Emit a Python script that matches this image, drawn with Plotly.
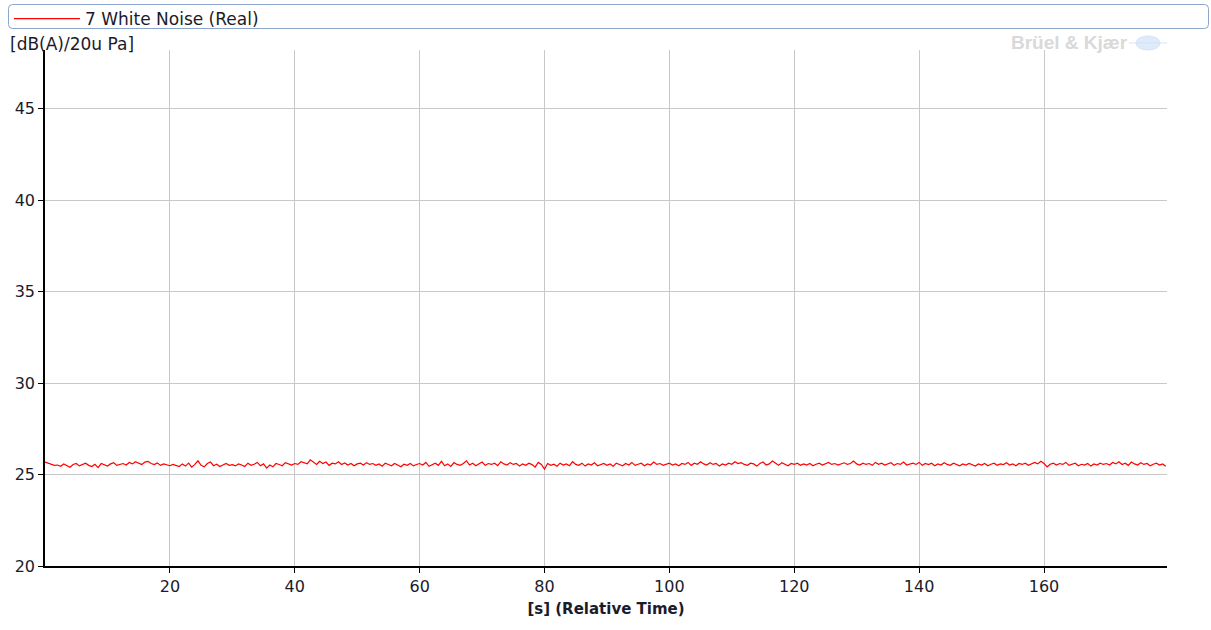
import plotly.graph_objects as go

# ---- data (0.5 s spacing) ----
series_name = "7 White Noise (Real)"
time_step_s = 0.5
level_dba = [
    25.68, 25.62, 25.55, 25.50, 25.52, 25.45, 25.58, 25.48, 25.40, 25.55, 25.60, 25.47, 25.53, 25.62, 25.50, 25.44, 25.56, 25.38, 25.60, 25.52,
    25.46, 25.58, 25.64, 25.50, 25.55, 25.60, 25.52, 25.66, 25.58, 25.70, 25.62, 25.55, 25.68, 25.72, 25.60, 25.54, 25.63, 25.50, 25.58, 25.52,
    25.48, 25.55, 25.50, 25.44, 25.58, 25.46, 25.62, 25.40, 25.55, 25.75, 25.50, 25.42, 25.60, 25.68, 25.48, 25.56, 25.44, 25.52, 25.60, 25.50,
    25.54, 25.47, 25.58, 25.52, 25.44, 25.62, 25.50, 25.56, 25.66, 25.48, 25.58, 25.35, 25.52, 25.42, 25.60, 25.55, 25.48, 25.65, 25.58, 25.52,
    25.60, 25.55, 25.70, 25.62, 25.58, 25.80, 25.65, 25.55, 25.72, 25.60, 25.68, 25.50, 25.62, 25.58, 25.70, 25.55, 25.63, 25.52, 25.60, 25.48,
    25.58, 25.62, 25.52, 25.65, 25.55, 25.60, 25.50, 25.58, 25.45, 25.62, 25.55, 25.48, 25.60, 25.52, 25.42, 25.56, 25.50, 25.60, 25.47, 25.55,
    25.60, 25.52, 25.66, 25.45, 25.55, 25.62, 25.50, 25.72, 25.48, 25.58, 25.44, 25.65, 25.55, 25.50, 25.60, 25.75, 25.52, 25.62, 25.48, 25.56,
    25.68, 25.50, 25.60, 25.55, 25.62, 25.48, 25.70, 25.58, 25.52, 25.65, 25.55, 25.60, 25.46, 25.58, 25.50, 25.62, 25.54, 25.40, 25.66, 25.55,
    25.30, 25.60, 25.50, 25.56, 25.45, 25.62, 25.52, 25.58, 25.48, 25.70, 25.55, 25.50, 25.62, 25.46, 25.58, 25.52, 25.64, 25.48, 25.55, 25.60,
    25.50, 25.58, 25.45, 25.62, 25.55, 25.48, 25.60, 25.52, 25.66, 25.50, 25.56, 25.62, 25.48, 25.58, 25.52, 25.68, 25.55, 25.60, 25.50, 25.57,
    25.62, 25.52, 25.58, 25.48, 25.60, 25.55, 25.66, 25.50, 25.62, 25.56, 25.70, 25.58, 25.52, 25.64, 25.55, 25.60, 25.46, 25.58, 25.52, 25.62,
    25.56, 25.70, 25.60, 25.65, 25.55, 25.50, 25.62, 25.58, 25.46, 25.60, 25.68, 25.52, 25.58, 25.74, 25.60, 25.50, 25.64, 25.55, 25.48, 25.60,
    25.55, 25.62, 25.50, 25.58, 25.52, 25.60, 25.48, 25.56, 25.62, 25.52, 25.58, 25.66, 25.55, 25.60, 25.52, 25.58, 25.64, 25.55, 25.60, 25.74,
    25.58, 25.52, 25.62, 25.55, 25.60, 25.50, 25.66, 25.56, 25.62, 25.52, 25.58, 25.64, 25.50, 25.60, 25.55, 25.68, 25.52, 25.58, 25.62, 25.55,
    25.66, 25.50, 25.60, 25.54, 25.62, 25.48, 25.58, 25.52, 25.64, 25.55, 25.50, 25.62, 25.56, 25.48, 25.58, 25.52, 25.60, 25.55, 25.46, 25.58,
    25.52, 25.60, 25.48, 25.56, 25.62, 25.50, 25.58, 25.54, 25.64, 25.52, 25.58, 25.48, 25.60, 25.55, 25.62, 25.50, 25.56, 25.66, 25.58, 25.72,
    25.60, 25.42, 25.56, 25.62, 25.52, 25.60, 25.55, 25.66, 25.50, 25.58, 25.62, 25.48, 25.56, 25.52, 25.60, 25.46, 25.58, 25.52, 25.62, 25.55,
    25.60, 25.52, 25.66, 25.58, 25.70, 25.55, 25.62, 25.50, 25.68, 25.58, 25.52, 25.64, 25.55, 25.60, 25.48, 25.56, 25.62, 25.52, 25.58, 25.45,
]
time_s = [i * time_step_s for i in range(len(level_dba))]

x_ticks = [20, 40, 60, 80, 100, 120, 140, 160]
y_ticks = [20, 25, 30, 35, 40, 45]
x_title = "[s] (Relative Time)"
y_title = "[dB(A)/20u Pa]"
brand = "Brüel & Kjær"

FONT = "DejaVu Sans"
TXT = "#1b1b2b"

W, H = 1211, 630
ml, mr, mt, mb = 45, 44, 50, 64
pw, ph = W - ml - mr, H - mt - mb


def px(xp):
    return (xp - ml) / pw


def py(yp):
    return (H - mb - yp) / ph


fig = go.Figure()
fig.add_trace(go.Scatter(
    x=time_s, y=level_dba, mode="lines", name=series_name,
    line=dict(color="#ff0000", width=1.2),
))

fig.update_layout(
    width=W, height=H,
    margin=dict(l=ml, r=mr, t=mt, b=mb, autoexpand=False),
    paper_bgcolor="white", plot_bgcolor="white",
    font=dict(family=FONT, size=17, color=TXT),
    showlegend=True,
    legend=dict(
        xref="container", yref="container",
        x=9 / W, xanchor="left",
        y=1 - 1 / H, yanchor="top",
        bgcolor="rgba(0,0,0,0)", borderwidth=0,
        font=dict(family=FONT, size=17, color=TXT),
        itemwidth=66, tracegroupgap=0,
    ),
    xaxis=dict(
        range=[0, 179.7], tickmode="array", tickvals=x_ticks,
        showgrid=True, gridcolor="#c8c8c8", gridwidth=1,
        showline=True, linecolor="black", linewidth=1.5,
        ticks="outside", ticklen=5, tickcolor="black",
        tickfont=dict(family=FONT, size=16, color=TXT),
        zeroline=False,
        title=dict(text="<b>" + x_title + "</b>", font=dict(family=FONT, size=15, color=TXT), standoff=9),
    ),
    yaxis=dict(
        range=[20, 48.2], tickmode="array", tickvals=y_ticks,
        showgrid=True, gridcolor="#c8c8c8", gridwidth=1,
        showline=True, linecolor="black", linewidth=1.5,
        ticks="outside", ticklen=5, tickcolor="black",
        tickfont=dict(family=FONT, size=16, color=TXT),
        zeroline=False,
    ),
)

# legend frame (rounded rectangle across the top)
x0, x1, y0, y1, r = 8.5, 1208.5, 4.5, 28.5, 4
path = (f"M {px(x0 + r)},{py(y0)} L {px(x1 - r)},{py(y0)} "
        f"Q {px(x1)},{py(y0)} {px(x1)},{py(y0 + r)} L {px(x1)},{py(y1 - r)} "
        f"Q {px(x1)},{py(y1)} {px(x1 - r)},{py(y1)} L {px(x0 + r)},{py(y1)} "
        f"Q {px(x0)},{py(y1)} {px(x0)},{py(y1 - r)} L {px(x0)},{py(y0 + r)} "
        f"Q {px(x0)},{py(y0)} {px(x0 + r)},{py(y0)} Z")
fig.add_shape(type="path", xref="paper", yref="paper", path=path,
              line=dict(color="#8aa6cc", width=1), fillcolor="rgba(0,0,0,0)")

# logo globe mark
fig.add_shape(type="circle", xref="paper", yref="paper",
              x0=px(1136), x1=px(1160), y0=py(50), y1=py(36),
              line=dict(color="#d3e3f8", width=1), fillcolor="#dfeafb")
fig.add_shape(type="line", xref="paper", yref="paper",
              x0=px(1129), x1=px(1167), y0=py(43), y1=py(43),
              line=dict(color="#d3e3f8", width=1))

fig.add_annotation(text=y_title, xref="paper", yref="paper",
                   x=px(8), y=py(44), xanchor="left", yanchor="middle",
                   showarrow=False, font=dict(family=FONT, size=17, color=TXT))
fig.add_annotation(text="<b>" + brand + "</b>", xref="paper", yref="paper",
                   x=px(1130), y=py(43), xanchor="right", yanchor="middle",
                   showarrow=False, font=dict(family="Liberation Sans", size=19, color="#d9d9d9"))

fig.write_html("out.html", config={"displayModeBar": False},
               post_script="document.body.style.margin='0';")
